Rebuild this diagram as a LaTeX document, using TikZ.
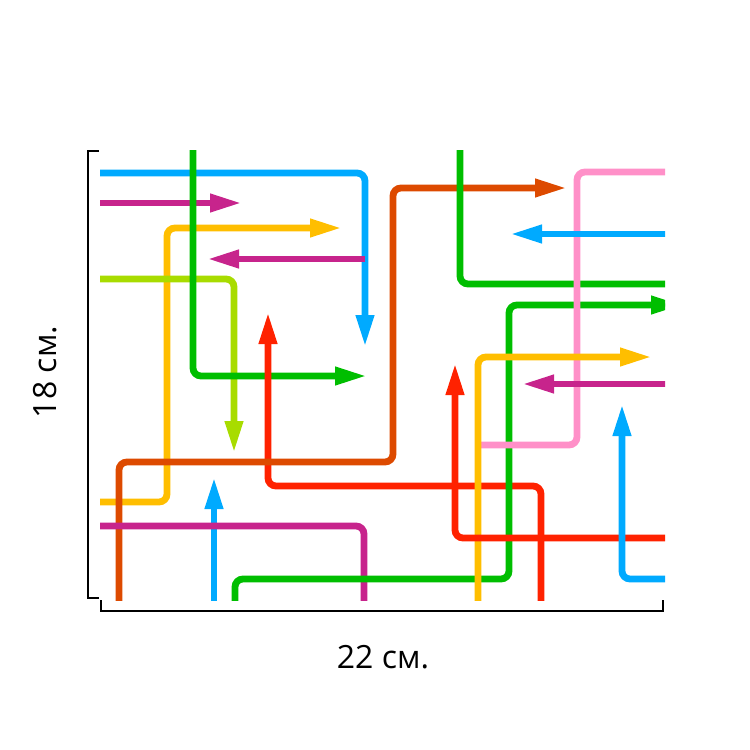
\documentclass[tikz,border=0pt]{standalone}
\usepackage{fontspec}
\setmainfont{Open Sans}
\usetikzlibrary{arrows.meta}
\definecolor{cblue}{RGB}{0,170,255}
\definecolor{cmag}{RGB}{199,36,140}
\definecolor{cgreen}{RGB}{0,190,0}
\definecolor{cyellow}{RGB}{255,190,0}
\definecolor{clime}{RGB}{168,220,0}
\definecolor{cred}{RGB}{255,34,0}
\definecolor{corange}{RGB}{221,74,0}
\definecolor{cpink}{RGB}{255,144,200}
\begin{document}
\begin{tikzpicture}[x=1pt,y=-1pt,
  wire/.style={line width=6.8pt, rounded corners=8pt},
  tip/.style={-{Triangle[length=32pt,width=17pt]}},
  bracket/.style={line width=1.8pt, black}]
\useasboundingbox (0,0) rectangle (750,750);
\begin{scope}
\clip (100,150) rectangle (665,600);
\draw[wire,cblue,tip] (95,173) -- (365,173) -- (365,347);
\draw[wire,cmag,tip] (95,203) -- (242,203);
\draw[wire,cyellow,tip] (95,502) -- (167,502) -- (167,228) -- (342,228);
\draw[wire,cmag,tip] (365,259) -- (207,259);
\draw[wire,clime,tip] (95,279) -- (234,279) -- (234,453);
\draw[wire,cgreen,tip] (193,145) -- (193,376) -- (367,376);
\draw[wire,cred,tip] (541,605) -- (541,486) -- (268,486) -- (268,312);
\draw[wire,corange,tip] (119,605) -- (119,462) -- (393,462) -- (393,188) -- (567,188);
\draw[wire,cblue,tip] (214,605) -- (214,477);
\draw[wire,cmag] (95,526) -- (364,526) -- (364,605);
\draw[wire,cgreen,tip] (235,605) -- (235,579) -- (509,579) -- (509,305) -- (683,305);
\draw[wire,cgreen] (460,145) -- (460,284) -- (670,284);
\draw[wire,cpink] (670,172) -- (577,172) -- (577,445) -- (477,445);
\draw[wire,cblue,tip] (670,234) -- (510,234);
\draw[wire,cyellow,tip] (478,605) -- (478,357) -- (652,357);
\draw[wire,cmag,tip] (670,384) -- (522,384);
\draw[wire,cred,tip] (670,538) -- (455,538) -- (455,363);
\draw[wire,cblue,tip] (670,579) -- (622,579) -- (622,404);
\end{scope}
\draw[bracket] (99,151) -- (88,151) -- (88,598) -- (99,598);
\draw[bracket] (101,600) -- (101,611) -- (663,611) -- (663,600);
\node[font=\fontsize{32}{38}\selectfont] (w) at (383,657) {22 см.};
\node[font=\fontsize{32}{38}\selectfont, rotate=90] (h) at (45,372) {18 см.};
\end{tikzpicture}
\end{document}
